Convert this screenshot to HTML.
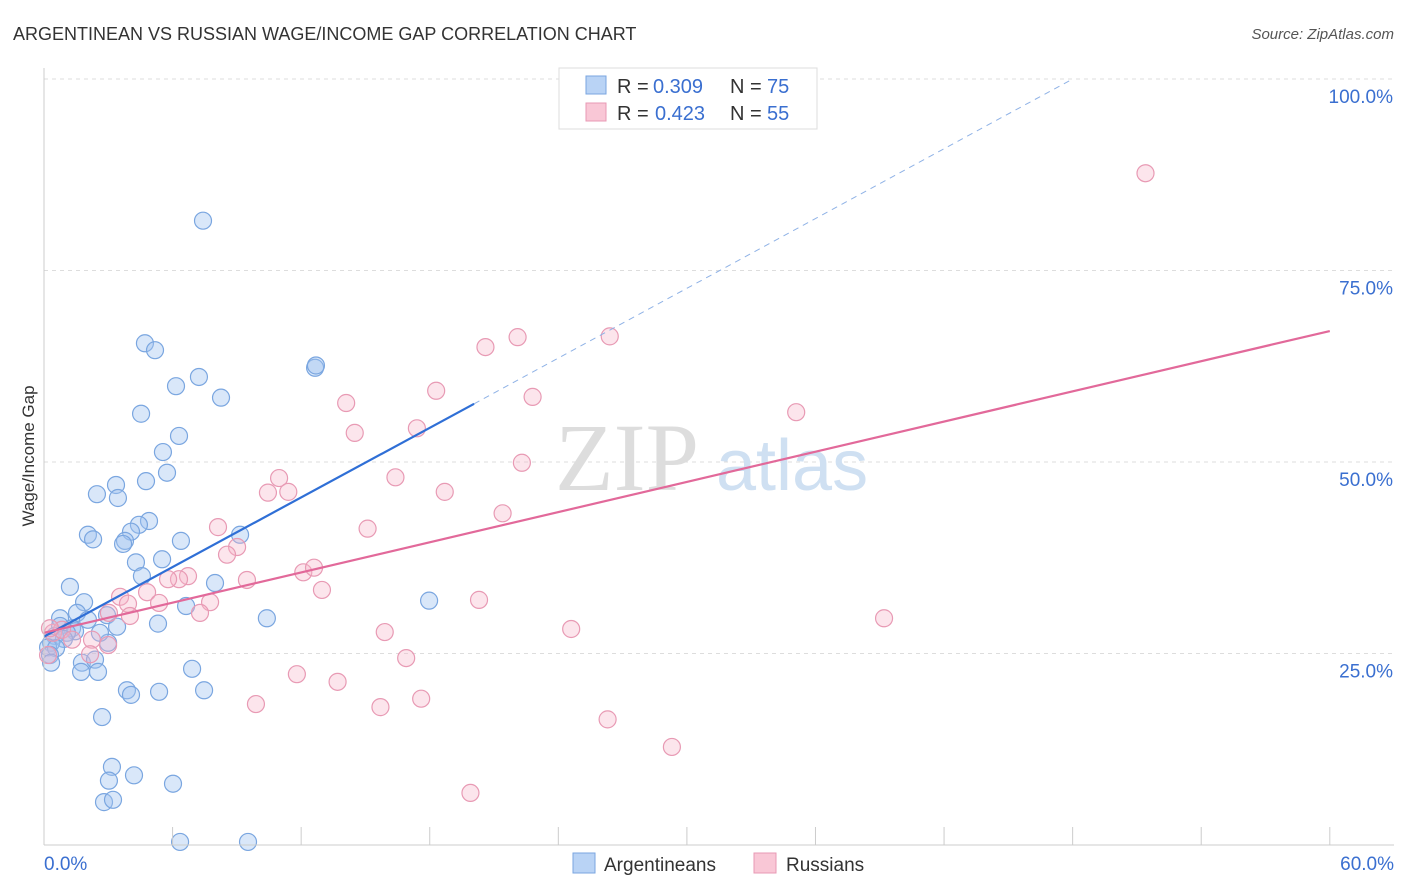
<!DOCTYPE html>
<html><head><meta charset="utf-8"><style>
body{margin:0;background:#fff;font-family:"Liberation Sans",sans-serif}
svg{display:block}
</style></head><body>
<svg id="chart" width="1406" height="892" xmlns="http://www.w3.org/2000/svg">
<text x="13" y="40" font-size="18" fill="#333">ARGENTINEAN VS RUSSIAN WAGE/INCOME GAP CORRELATION CHART</text>
<text x="1394" y="39" font-size="15" fill="#555" font-style="italic" text-anchor="end">Source: ZipAtlas.com</text>
<g id="grid"></g>
<g><text x="555" y="490" font-size="96" font-family="Liberation Serif,serif" fill="#ddd">ZIP</text><text x="716" y="490" font-size="72" fill="#cfe0f2">atlas</text></g>
<g id="pts"></g>
<g id="lines"></g>
<g id="axes"></g>
<text x="34" y="456" font-size="17" fill="#333" transform="rotate(-90 34 456)" text-anchor="middle">Wage/Income Gap</text>
<g>
<rect x="559" y="68" width="258" height="61" fill="#fff" stroke="#ddd"/>
<rect x="586" y="76" width="20" height="18" fill="#b9d3f5" stroke="#7aa6e0"/>
<rect x="586" y="103" width="20" height="18" fill="#f9c7d6" stroke="#e89ab4"/>
<text x="617" y="93" font-size="20" fill="#333">R =</text>
<text x="653" y="93" font-size="20" fill="#3a6fd0">0.309</text>
<text x="730" y="93" font-size="20" fill="#333">N =</text>
<text x="767" y="93" font-size="20" fill="#3a6fd0">75</text>
<text x="617" y="120" font-size="20" fill="#333">R =</text>
<text x="655" y="120" font-size="20" fill="#3a6fd0">0.423</text>
<text x="730" y="120" font-size="20" fill="#333">N =</text>
<text x="767" y="120" font-size="20" fill="#3a6fd0">55</text>
</g>
<g>
<rect x="573" y="853" width="22" height="20" fill="#b9d3f5" stroke="#7aa6e0"/>
<text x="604" y="871" font-size="19" fill="#333">Argentineans</text>
<rect x="754" y="853" width="22" height="20" fill="#f9c7d6" stroke="#e89ab4"/>
<text x="786" y="871" font-size="19" fill="#333">Russians</text>
</g>
</svg>
<script>
const xTicks=[0,6,12,18,24,30,36,42,48,54,60];
const yTicks=[25,50,75,100];
const blueX=[7.42,4.71,5.18,12.65,12.69,7.23,6.16,8.26,4.53,6.30,5.55,5.74,4.76,3.36,2.47,3.45,4.90,4.43,4.06,2.05,9.15,2.29,3.78,3.69,6.39,4.29,5.51,4.57,7.98,1.21,1.87,6.63,17.97,1.54,2.94,0.75,10.4,2.05,3.41,5.32,0.75,1.31,1.45,1.07,0.51,0.93,0.33,0.19,0.56,0.28,2.99,2.61,0.33,1.77,2.38,1.73,2.52,6.91,3.87,4.06,5.37,7.47,2.71,3.17,3.03,4.20,6.02,2.80,3.22,6.35,9.52];
const blueY=[81.5,65.5,64.6,62.3,62.6,61.1,59.9,58.4,56.3,53.4,51.3,48.6,47.5,47.0,45.8,45.3,42.3,41.8,40.9,40.5,40.5,39.9,39.7,39.3,39.7,36.9,37.3,35.1,34.2,33.7,31.7,31.2,31.9,30.3,30.0,29.6,29.6,29.4,28.5,28.9,28.6,28.3,27.9,27.7,27.3,26.9,26.4,25.8,25.7,24.8,26.4,27.7,23.8,23.8,24.2,22.6,22.6,23.0,20.2,19.6,20.0,20.2,16.7,10.2,8.4,9.1,8.0,5.6,5.9,0.4,0.4];
const pinkX=[51.4,22.1,26.4,20.6,18.3,14.1,22.8,35.1,14.5,17.4,22.3,10.97,16.4,10.45,11.4,18.7,21.4,8.12,15.1,9.01,8.54,9.47,12.1,12.6,6.72,6.30,5.79,12.97,3.55,4.81,5.37,7.75,3.92,20.3,3.03,7.28,4.01,39.2,24.6,15.9,0.42,0.84,1.31,2.24,2.99,2.15,0.19,0.28,16.9,11.8,13.7,15.7,17.6,9.89,26.3,29.3,19.9];
const pinkY=[87.7,66.3,66.4,65.0,59.3,57.7,58.5,56.5,53.8,54.4,49.9,47.9,48.0,46.0,46.1,46.1,43.3,41.5,41.3,38.9,37.9,34.6,35.6,36.2,35.1,34.7,34.7,33.3,32.4,33.0,31.6,31.7,31.5,32.0,30.3,30.3,29.9,29.6,28.2,27.8,27.7,28.1,26.8,26.8,26.1,24.9,24.8,28.3,24.4,22.3,21.3,18.0,19.1,18.4,16.4,12.8,6.8];
const blueLine=[0,27.2,20.07,57.6];
const blueDash=[20.07,57.6,48,100];
const pinkLine=[0,27.7,60,67.1];
const X=v=>44+v*21.43, Y=v=>845-v*7.66;
const NS='http://www.w3.org/2000/svg';
function mk(t,a,p){const e=document.createElementNS(NS,t);for(const k in a)e.setAttribute(k,a[k]);p.appendChild(e);return e;}
const grid=document.getElementById('grid'),axes=document.getElementById('axes'),pts=document.getElementById('pts'),lines=document.getElementById('lines');
yTicks.forEach(v=>{const l=mk('line',{x1:44,x2:1394,y1:Y(v),y2:Y(v),stroke:'#ddd','stroke-dasharray':'4,4'},grid);


const t=mk('text',{x:1393,y:Y(v)+24,'font-size':19,fill:'#3a6fd0','text-anchor':'end'},axes);t.textContent=v.toFixed(1)+'%';

});
mk('line',{x1:44,x2:44,y1:68,y2:845,stroke:'#ccc'},axes);
mk('line',{x1:44,x2:1394,y1:845,y2:845,stroke:'#ccc'},axes);
xTicks.forEach(v=>{const l=mk('line',{x1:X(v),x2:X(v),y1:827,y2:845,stroke:'#ccc'},axes);

});
[[0,'start',44],[60,'end',1394]].forEach(([v,a,x])=>{const t=mk('text',{x:x,y:870,'font-size':19,fill:'#3a6fd0','text-anchor':a},axes);t.textContent=v.toFixed(1)+'%';

});
blueX.forEach((v,i)=>{const c=mk('circle',{cx:X(v),cy:Y(blueY[i]),r:8.5,fill:'rgba(160,196,240,0.4)',stroke:'#7aa6e0','stroke-width':1.2},pts);

});
pinkX.forEach((v,i)=>{const c=mk('circle',{cx:X(v),cy:Y(pinkY[i]),r:8.5,fill:'rgba(245,180,200,0.35)',stroke:'#e89ab4','stroke-width':1.2},pts);

});
let l1=mk('line',{x1:X(blueLine[0]),y1:Y(blueLine[1]),x2:X(blueLine[2]),y2:Y(blueLine[3]),stroke:'#2f6fd6','stroke-width':2.2},lines);


let l2=mk('line',{x1:X(blueDash[0]),y1:Y(blueDash[1]),x2:X(blueDash[2]),y2:Y(blueDash[3]),stroke:'#8fb2e6','stroke-width':1,'stroke-dasharray':'6,5'},lines);


let l3=mk('line',{x1:X(pinkLine[0]),y1:Y(pinkLine[1]),x2:X(pinkLine[2]),y2:Y(pinkLine[3]),stroke:'#e2699a','stroke-width':2.2},lines);


</script>
</body></html>
